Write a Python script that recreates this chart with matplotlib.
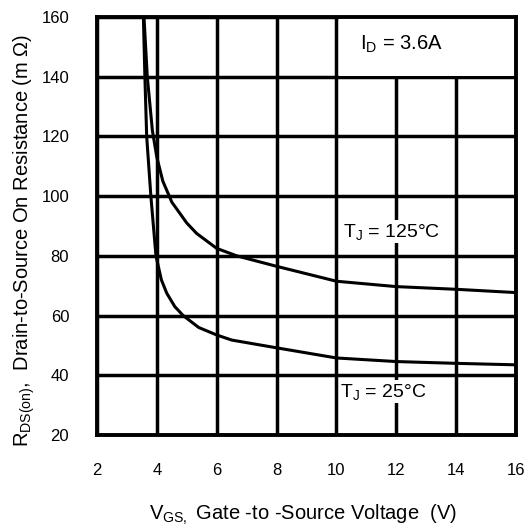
import matplotlib
matplotlib.use("Agg")
import matplotlib.pyplot as plt
from matplotlib.patches import Rectangle

plt.rcParams['font.family'] = ['Liberation Sans', 'DejaVu Sans']
plt.rcParams['mathtext.default'] = 'regular'

# Data
vgs_25 = [3.50, 3.55, 3.60, 3.66, 3.80, 3.97, 4.15, 4.33, 4.60, 4.88, 5.40, 6.00, 6.50, 8.00, 10.0, 12.0, 14.0, 16.0]
rds_25 = [170, 160, 140, 120, 100, 80, 72, 67.5, 63, 60, 56, 53.5, 51.8, 49.2, 45.8, 44.6, 44.0, 43.5]

vgs_125 = [3.52, 3.57, 3.68, 3.85, 4.00, 4.20, 4.50, 5.00, 5.33, 6.00, 6.67, 8.00, 10.0, 12.0, 14.0, 16.0]
rds_125 = [170, 160, 140, 122, 113, 105, 98, 91, 87.5, 82.5, 80, 76.5, 71.5, 69.7, 68.8, 67.7]

x_ticks = [2, 4, 6, 8, 10, 12, 14, 16]
y_ticks = [20, 40, 60, 80, 100, 120, 140, 160]

fig = plt.figure(figsize=(5.28, 5.28), dpi=100)
ax = fig.add_axes([97/528, 1-435/528, 419/528, 418/528])

ax.plot(vgs_25, rds_25, color='black', lw=2.2, solid_capstyle='butt', zorder=2)
ax.plot(vgs_125, rds_125, color='black', lw=2.2, solid_capstyle='butt', zorder=2)

ax.set_xlim(2, 16)
ax.set_ylim(20, 160)
ax.set_xticks(x_ticks)
ax.set_yticks(y_ticks)
ax.grid(True, color='black', lw=2.5)
ax.tick_params(length=0, pad=20, labelsize=12)
for s in ax.spines.values():
    s.set_linewidth(2.8)

# white box behind I_D label
ax.add_patch(Rectangle((10.07, 140.4), 5.88, 19.5, facecolor='white', edgecolor='none', zorder=1.8))

ax.text(10.79, 149.2, r'$I_D$ = 3.6A', fontsize=14.5, ha='left', va='baseline', zorder=3)
ax.text(10.22, 86.4, r'$T_J$ = 125°C', fontsize=14, ha='left', va='baseline', zorder=3,
        bbox=dict(facecolor='white', edgecolor='none', pad=1))
ax.text(10.12, 32.8, r'$T_J$ = 25°C', fontsize=14, ha='left', va='baseline', zorder=3,
        bbox=dict(facecolor='white', edgecolor='none', pad=1))

ax.set_xlabel(r'$V_{GS,}$ Gate -to -Source Voltage  (V)', fontsize=14.5)
ax.set_ylabel(r'$R_{DS(on)}$,  Drain-to-Source On Resistance (m $\Omega$)', fontsize=14.5)
ax.xaxis.set_label_coords(0.492, -0.163)
ax.yaxis.set_label_coords(-0.143, 0.466)

fig.savefig('out.png', dpi=100)
